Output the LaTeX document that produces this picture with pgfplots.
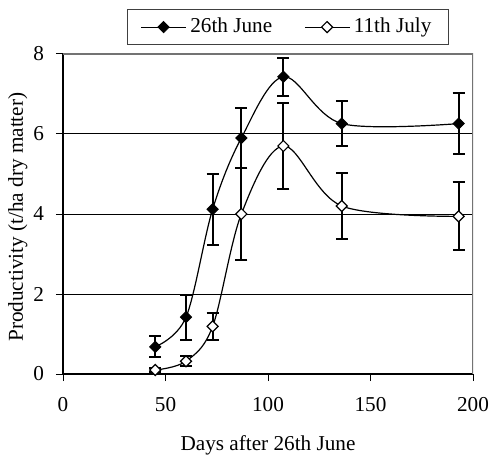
\documentclass[border=0pt]{standalone}
\usepackage{fontspec}
\setmainfont{Liberation Serif}
\usepackage{pgfplots}
\pgfplotsset{compat=1.18}
\begin{document}
\begin{tikzpicture}
\path[use as bounding box] (-31.5pt,-40pt) rectangle (214pt,187pt);
\begin{axis}[
  at={(0,0)}, anchor=south west,
  scale only axis, width=205pt, height=160pt,
  xmin=0, xmax=200, ymin=0, ymax=8,
  xtick={0,50,...,200}, ytick={0,2,...,8},
  axis x line*=bottom, axis y line*=left,
  x axis line style={-}, y axis line style={-},
  tick align=outside, major tick length=3.5pt,
  tick style={black, line width=0.5pt},
  axis line style={black, line width=0.6pt},
  extra y ticks={2,4,6}, extra y tick labels={},
  extra y tick style={grid=major, major tick length=0pt},
  grid style={black, line width=0.5pt},
  /pgf/number format/assume math mode=true,
  ticklabel style={font=\fontsize{10.6}{12.7}\selectfont},
  yticklabel style={xshift=-2.5pt},
  xticklabel style={yshift=-4.5pt},
  label style={font=\fontsize{10.6}{12.7}\selectfont},
  xlabel={Days after 26th June},
  xlabel style={yshift=-5pt},
  ylabel={Productivity (t/ha dry matter)},
  ylabel style={at={(axis description cs:-0.11,0.49)}, anchor=center, rotate=0},
  legend columns=2,
  legend style={at={(0.549,1.084)}, anchor=center, draw=black!75, line width=0.5pt,
    font=\fontsize{10.6}{12.7}\selectfont, inner xsep=6.5pt, inner ysep=2.5pt,
    /tikz/every even column/.style={column sep=14pt}},
  legend image code/.code={\draw[mark repeat=2,mark phase=2] plot coordinates {(0cm,0cm) (0.39cm,0cm) (0.78cm,0cm)};},
]
\draw[black!55, line width=0.6pt] (rel axis cs:0,1) -- (rel axis cs:1,1) -- (rel axis cs:1,0);
\addplot[black, line width=0.6pt, smooth, tension=0.55,
  mark=square*, mark size=1.95pt, mark options={rotate=45, fill=black, solid, line width=0.5pt},
  error bars/.cd, y dir=both, y explicit,
  error bar style={line width=1pt},
  error mark options={rotate=90, black, line width=1pt, mark size=3pt}]
  table[x=x, y=y, y error=e] {
x y e
45 0.68 0.26
60 1.42 0.56
73 4.12 0.89
87 5.90 0.74
107.5 7.43 0.48
136 6.26 0.57
193 6.26 0.76
};
\addlegendentry{26th June}
\addplot[black, line width=0.6pt, smooth, tension=0.55,
  mark=square*, mark size=1.95pt, mark options={rotate=45, fill=white, solid, line width=0.6pt},
  error bars/.cd, y dir=both, y explicit,
  error bar style={line width=1pt},
  error mark options={rotate=90, black, line width=1pt, mark size=3pt}]
  table[x=x, y=y, y error=e] {
x y e
45 0.10 0.04
60 0.32 0.13
73 1.19 0.33
87 4.00 1.14
107.5 5.70 1.07
136 4.20 0.83
193 3.94 0.85
};
\addlegendentry{11th July}
\end{axis}
\end{tikzpicture}
\end{document}
